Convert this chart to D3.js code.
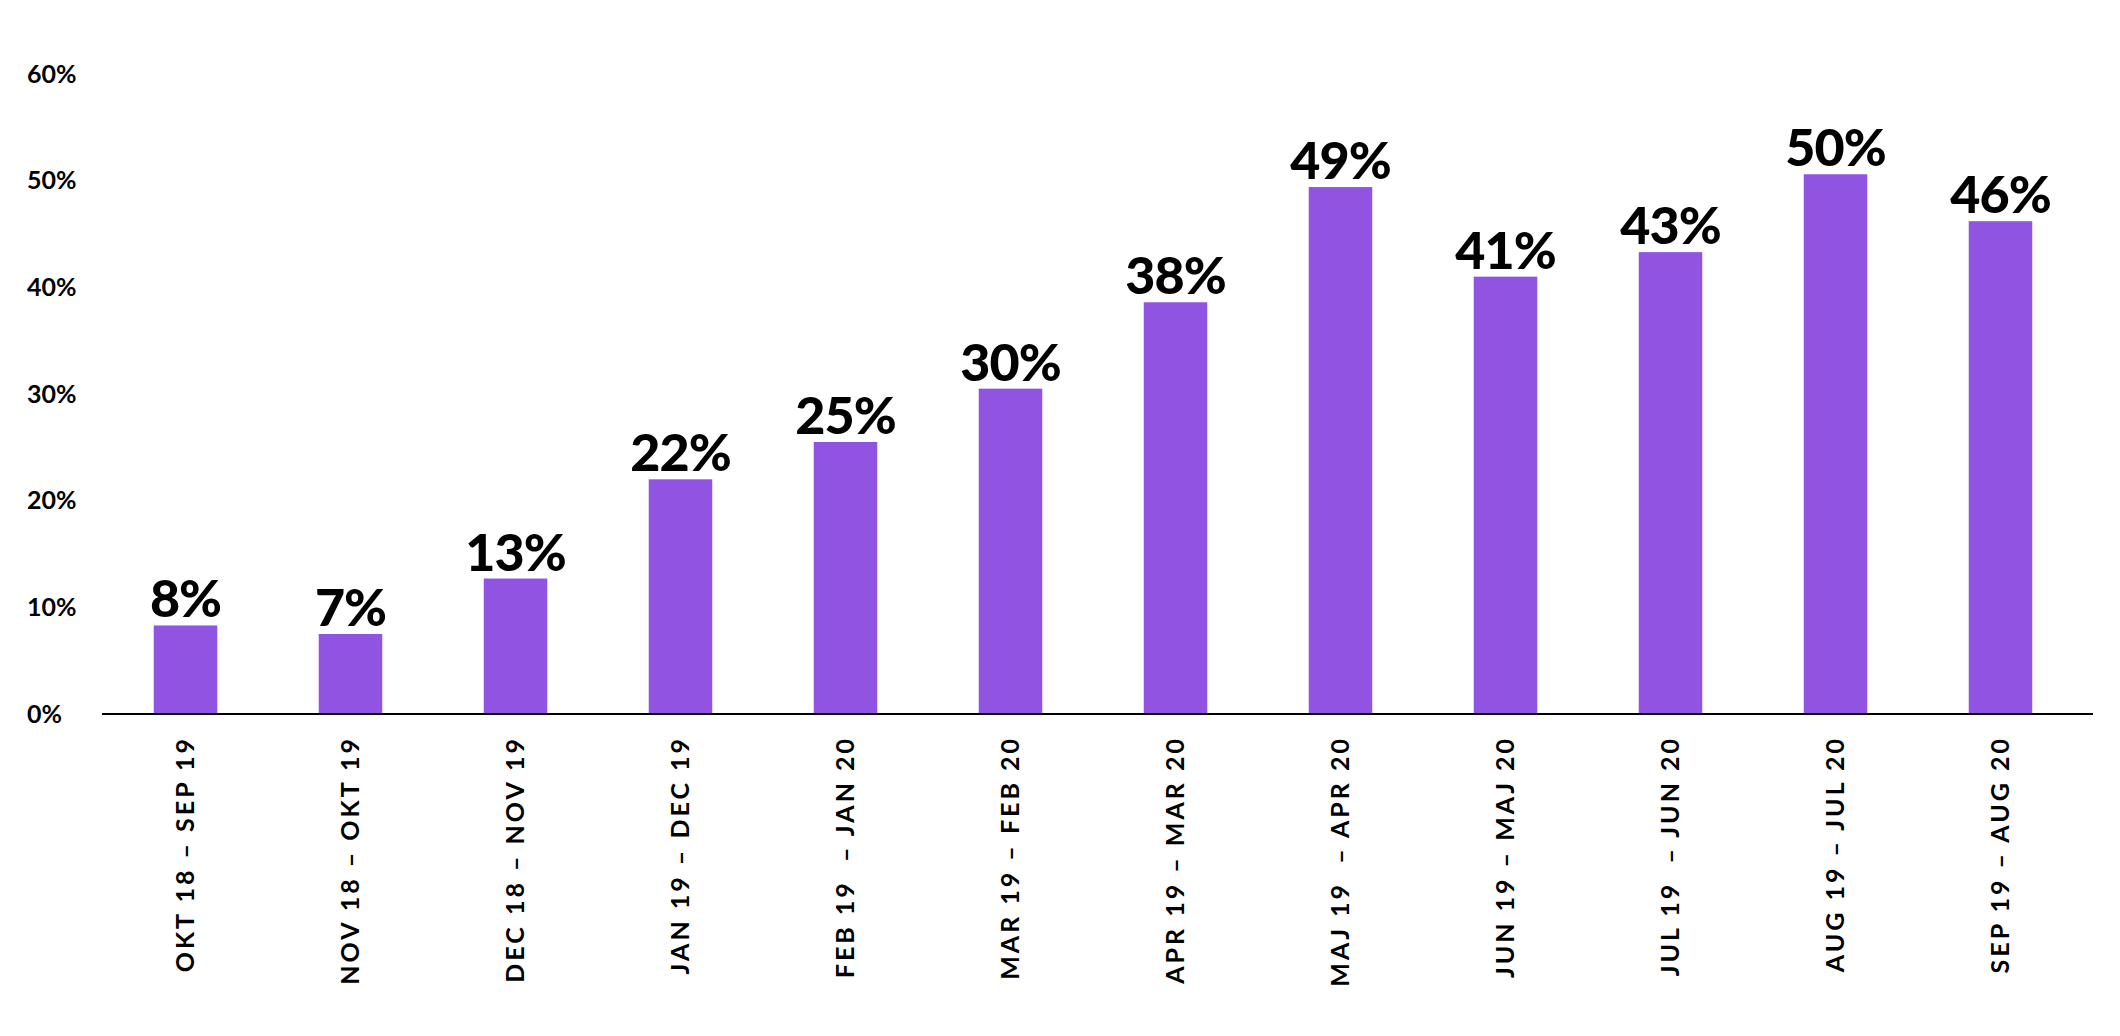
<!DOCTYPE html>
<html><head><meta charset="utf-8">
<script src="https://cdn.jsdelivr.net/npm/d3@7"></script>
<style>body{margin:0;background:#fff}</style>
</head><body>
<div id="chart"></div>
<script>
var categories = ["OKT 18 – SEP 19","NOV 18 – OKT 19","DEC 18 – NOV 19","JAN 19 – DEC 19","FEB 19  – JAN 20","MAR 19 – FEB 20","APR 19 – MAR 20","MAJ 19  – APR 20","JUN 19 – MAJ 20","JUL 19  – JUN 20","AUG 19 – JUL 20","SEP 19 – AUG 20"];
var values = [8.3, 7.5, 12.7, 22.0, 25.5, 30.5, 38.6, 49.4, 41.0, 43.3, 50.6, 46.2];
var labels = ["8%","7%","13%","22%","25%","30%","38%","49%","41%","43%","50%","46%"];
var yTicks = [0, 10, 20, 30, 40, 50, 60];

var svg = d3.select("#chart").append("svg")
  .attr("width", 2120).attr("height", 1036);

var x = d3.scaleBand().domain(categories).range([103, 2083])
  .paddingInner(0.615).paddingOuter(0.3075);
var y = d3.scaleLinear().domain([0, 60]).range([714, 74]);

// y tick labels
svg.selectAll(".ytick").data(yTicks).enter().append("text")
  .attr("x", 27).attr("y", function(d){ return y(d); })
  .attr("dy", "0.35em")
  .style("font-family", "Lato").style("font-weight", 700).style("font-size", "25px")
  .text(function(d){ return d + "%"; });

svg.selectAll("rect").data(values).enter().append("rect")
  .attr("x", function(d, i){ return x(categories[i]); })
  .attr("y", function(d){ return y(d); })
  .attr("width", x.bandwidth())
  .attr("height", function(d){ return y(0) - y(d); })
  .attr("fill", "#9053e2");

// baseline
svg.append("line").attr("x1", 102).attr("x2", 2093)
  .attr("y1", y(0)).attr("y2", y(0))
  .attr("stroke", "#000").attr("stroke-width", 2);

svg.selectAll(".val").data(values).enter().append("text")
  .attr("x", function(d, i){ return x(categories[i]) + x.bandwidth() / 2; })
  .attr("y", function(d){ return y(d) - 8; })
  .attr("text-anchor", "middle")
  .style("font-family", "Lato").style("font-weight", 900).style("font-size", "52px")
  .style("letter-spacing", "-1px")
  .text(function(d, i){ return labels[i]; });

svg.selectAll(".cat").data(categories).enter().append("text")
  .attr("transform", function(d){
    return "translate(" + (x(d) + x.bandwidth() / 2) + "," + (y(0) + 22) + ") rotate(-90)";
  })
  .attr("text-anchor", "end").attr("dy", "0.35em")
  .style("font-family", "Lato").style("font-weight", 700).style("font-size", "25px")
  .style("letter-spacing", "3px").style("white-space", "pre")
  .text(function(d){ return d; });
</script>
</body></html>
